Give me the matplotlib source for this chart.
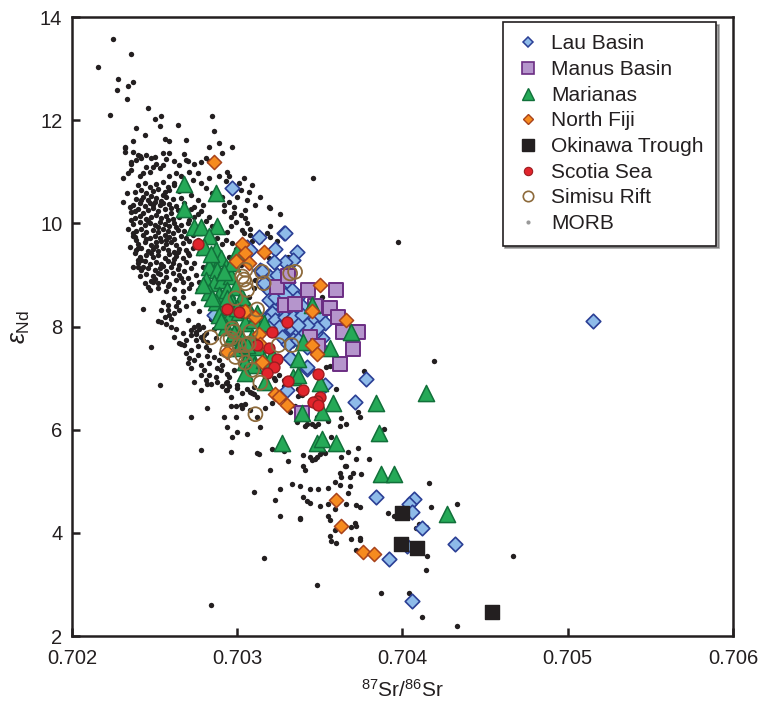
import matplotlib
matplotlib.use('Agg')
import matplotlib.pyplot as plt
from matplotlib.lines import Line2D

plt.rcParams['font.family'] = ['Liberation Sans', 'DejaVu Sans']
plt.rcParams['mathtext.fontset'] = 'custom'
plt.rcParams['mathtext.rm'] = 'Liberation Sans'
plt.rcParams['mathtext.it'] = 'Liberation Sans:italic'

# ---------------- data (87Sr/86Sr, eps_Nd) ----------------
series_names = ['Lau Basin', 'Manus Basin', 'Marianas', 'North Fiji',
                'Okinawa Trough', 'Scotia Sea', 'Simisu Rift', 'MORB']

x_ticks = [0.702, 0.703, 0.704, 0.705, 0.706]
y_ticks = [2, 4, 6, 8, 10, 12, 14]

morb_upper = [
    (0.70225, 13.58), (0.70236, 13.29), (0.70216, 13.04), (0.70228, 12.79), (0.70237, 12.75),
    (0.70227, 12.58), (0.70234, 12.66), (0.70233, 12.41), (0.70223, 12.11), (0.70246, 12.24),
    (0.70250, 12.02), (0.70254, 12.08), (0.70253, 11.88), (0.70264, 11.91), (0.70239, 11.84),
    (0.70244, 11.71), (0.70237, 11.60), (0.70232, 11.46), (0.70232, 11.38), (0.70256, 11.64),
    (0.70259, 11.59), (0.70269, 11.62), (0.70285, 12.09), (0.70286, 11.80), (0.70283, 11.49),
    (0.70289, 11.56), (0.70297, 11.49), (0.70291, 11.36), (0.70268, 11.34), (0.70255, 11.37),
    (0.70259, 11.36), (0.70257, 11.25), (0.70236, 11.19), (0.70236, 11.04), (0.70241, 11.30),
    (0.70239, 11.23), (0.70231, 10.88), (0.70270, 11.20), (0.70278, 11.19), (0.70283, 11.20),
    (0.70293, 10.82), (0.70309, 10.74), (0.70302, 10.65), (0.70320, 10.30), (0.70326, 10.19),
    (0.70305, 10.26), (0.70306, 10.46), (0.70346, 10.87), (0.70397, 9.63),
    (0.70232, 11.49), (0.70237, 11.39), (0.70240, 11.33), (0.70242, 11.26), (0.70245, 11.33),
    (0.70248, 11.26), (0.70250, 11.29), (0.70251, 11.16), (0.70249, 11.10), (0.70253, 11.07),
    (0.70255, 11.13), (0.70245, 11.10), (0.70247, 11.00), (0.70243, 10.97), (0.70241, 10.91),
    (0.70236, 11.16), (0.70234, 10.97), (0.70262, 11.20), (0.70265, 11.13), (0.70269, 11.23),
    (0.70274, 11.16), (0.70281, 11.26), (0.70276, 10.97), (0.70271, 11.00), (0.70263, 10.97),
    (0.70259, 10.91), (0.70262, 10.78), (0.70266, 10.91), (0.70273, 10.84), (0.70278, 10.78),
    (0.70283, 10.87), (0.70289, 10.91), (0.70294, 11.00), (0.70281, 10.68), (0.70285, 10.58),
    (0.70291, 10.52), (0.70295, 10.42), (0.70298, 10.32), (0.70292, 10.23), (0.70296, 10.13),
    (0.70299, 10.03), (0.70272, 10.55), (0.70276, 10.45), (0.70279, 10.36), (0.70274, 10.32),
    (0.70278, 10.23), (0.70283, 10.13), (0.70274, 10.13), (0.70271, 10.07), (0.70296, 9.94),
    (0.70294, 9.84), (0.70293, 9.68), (0.70297, 9.61),
]

morb_core = [
    (0.70240, 10.74), (0.70244, 10.78), (0.70247, 10.71), (0.70251, 10.76), (0.70255, 10.80),
    (0.70258, 10.70), (0.70262, 10.74),
    (0.70238, 10.60), (0.70242, 10.65), (0.70245, 10.58), (0.70249, 10.63), (0.70252, 10.67),
    (0.70256, 10.60), (0.70259, 10.64), (0.70265, 10.62), (0.70269, 10.66),
    (0.70239, 10.48), (0.70243, 10.52), (0.70246, 10.46), (0.70248, 10.54), (0.70251, 10.49),
    (0.70254, 10.44), (0.70257, 10.52), (0.70261, 10.47), (0.70266, 10.50),
    (0.70237, 10.36), (0.70241, 10.40), (0.70244, 10.34), (0.70247, 10.39), (0.70250, 10.42),
    (0.70253, 10.35), (0.70255, 10.40), (0.70259, 10.37), (0.70263, 10.33), (0.70268, 10.39),
    (0.70236, 10.22), (0.70240, 10.27), (0.70243, 10.21), (0.70246, 10.26), (0.70249, 10.29),
    (0.70252, 10.23), (0.70256, 10.27), (0.70260, 10.21), (0.70264, 10.26), (0.70268, 10.22),
    (0.70238, 10.10), (0.70241, 10.15), (0.70245, 10.09), (0.70248, 10.13), (0.70251, 10.16),
    (0.70254, 10.10), (0.70257, 10.14), (0.70261, 10.08), (0.70265, 10.12),
    (0.70237, 9.98), (0.70241, 10.02), (0.70244, 9.96), (0.70247, 10.01), (0.70250, 9.97),
    (0.70253, 10.03), (0.70256, 9.99), (0.70259, 9.95), (0.70262, 10.01), (0.70266, 9.97),
    (0.70270, 10.00),
    (0.70239, 9.85), (0.70242, 9.89), (0.70245, 9.83), (0.70249, 9.88), (0.70252, 9.84),
    (0.70255, 9.90), (0.70258, 9.86), (0.70261, 9.82), (0.70264, 9.88), (0.70268, 9.85),
    (0.70272, 9.89),
    (0.70238, 9.73), (0.70243, 9.77), (0.70247, 9.72), (0.70250, 9.76), (0.70253, 9.71),
    (0.70256, 9.78), (0.70259, 9.74), (0.70262, 9.70), (0.70266, 9.76), (0.70269, 9.72),
    (0.70273, 9.77),
    (0.70240, 9.60), (0.70244, 9.64), (0.70248, 9.59), (0.70251, 9.63), (0.70254, 9.66),
    (0.70257, 9.60), (0.70260, 9.64), (0.70263, 9.58), (0.70267, 9.62), (0.70271, 9.65),
    (0.70239, 9.48), (0.70242, 9.52), (0.70246, 9.47), (0.70249, 9.51), (0.70252, 9.46),
    (0.70255, 9.53), (0.70258, 9.49), (0.70262, 9.45), (0.70265, 9.51), (0.70269, 9.48),
    (0.70273, 9.52),
    (0.70241, 9.35), (0.70245, 9.39), (0.70249, 9.34), (0.70252, 9.38), (0.70256, 9.33),
    (0.70259, 9.40), (0.70263, 9.36), (0.70267, 9.32), (0.70271, 9.38),
    (0.70240, 9.23), (0.70244, 9.27), (0.70247, 9.22), (0.70251, 9.26), (0.70254, 9.21),
    (0.70258, 9.28), (0.70261, 9.24), (0.70265, 9.20), (0.70269, 9.26), (0.70274, 9.23),
    (0.70242, 9.10), (0.70246, 9.14), (0.70250, 9.09), (0.70253, 9.13), (0.70257, 9.08),
    (0.70260, 9.15), (0.70264, 9.11), (0.70268, 9.07), (0.70272, 9.13),
    (0.70241, 8.98), (0.70245, 9.02), (0.70249, 8.97), (0.70253, 9.01), (0.70257, 8.96),
    (0.70261, 9.03), (0.70265, 8.99), (0.70270, 8.95), (0.70275, 9.00),
    (0.70244, 8.85), (0.70248, 8.89), (0.70252, 8.84), (0.70255, 8.88), (0.70259, 8.83),
    (0.70263, 8.90), (0.70267, 8.86), (0.70272, 8.82), (0.70277, 8.87),
    (0.70247, 8.70), (0.70252, 8.74), (0.70257, 8.69), (0.70262, 8.73), (0.70267, 8.68),
    (0.70271, 8.75), (0.70276, 8.71), (0.70281, 8.67),
    (0.70231, 10.42), (0.70233, 10.58), (0.70235, 10.32), (0.70238, 10.23), (0.70236, 10.07),
    (0.70234, 9.90), (0.70237, 9.81), (0.70239, 9.68), (0.70235, 9.55), (0.70238, 9.42),
    (0.70240, 9.29), (0.70237, 9.16), (0.70237, 9.75), (0.70240, 9.52), (0.70242, 9.29),
    (0.70243, 9.16), (0.70246, 8.77), (0.70249, 8.87), (0.70252, 9.03), (0.70240, 9.16),
    (0.70276, 10.18), (0.70281, 10.05), (0.70285, 9.95), (0.70278, 9.90), (0.70283, 9.80),
    (0.70288, 9.72), (0.70276, 9.68), (0.70280, 9.55), (0.70286, 9.48), (0.70291, 9.60),
    (0.70277, 9.42), (0.70282, 9.30), (0.70288, 9.25), (0.70279, 9.15), (0.70284, 9.05),
    (0.70290, 9.10), (0.70295, 9.35), (0.70299, 9.50), (0.70281, 8.92), (0.70286, 8.80),
    (0.70292, 8.85), (0.70297, 9.00), (0.70302, 9.20), (0.70306, 9.40),
    (0.70295, 10.91), (0.70301, 10.78), (0.70304, 10.87), (0.70307, 10.61), (0.70300, 10.52),
    (0.70292, 10.36), (0.70298, 10.20), (0.70305, 10.10), (0.70311, 10.36), (0.70303, 9.87),
    (0.70309, 9.65), (0.70314, 9.65), (0.70318, 9.81), (0.70320, 9.94), (0.70314, 10.52),
    (0.70319, 10.31), (0.70302, 10.16), (0.70306, 10.00), (0.70308, 9.90), (0.70304, 9.81),
    (0.70308, 9.78), (0.70320, 9.74), (0.70324, 9.65), (0.70321, 9.48), (0.70331, 9.35),
    (0.70351, 8.58), (0.70314, 9.10), (0.70311, 8.90), (0.70310, 8.74), (0.70307, 8.58),
    (0.70319, 9.32),
    (0.70242, 10.45), (0.70249, 10.35), (0.70255, 10.55), (0.70260, 10.30), (0.70246, 10.05),
    (0.70252, 9.92), (0.70258, 10.06), (0.70263, 9.93), (0.70245, 9.70), (0.70251, 9.56),
    (0.70257, 9.68), (0.70264, 9.44), (0.70248, 9.42), (0.70255, 9.17), (0.70262, 9.30),
    (0.70250, 8.92), (0.70258, 8.78), (0.70266, 8.94), (0.70270, 9.42), (0.70272, 10.28),
]

morb_lower = [
    (0.70243, 8.34), (0.70248, 7.60), (0.70255, 8.48), (0.70254, 8.32), (0.70258, 8.32),
    (0.70259, 8.22), (0.70260, 8.14), (0.70252, 8.11), (0.70254, 8.09), (0.70256, 8.18),
    (0.70262, 8.55), (0.70264, 8.48), (0.70267, 8.58), (0.70265, 8.32), (0.70263, 8.40),
    (0.70269, 8.39), (0.70260, 8.00), (0.70266, 7.67), (0.70269, 7.48), (0.70270, 7.30),
    (0.70272, 7.19), (0.70271, 7.39), (0.70276, 7.45),
    (0.70274, 8.00), (0.70272, 7.93), (0.70275, 7.90), (0.70277, 7.95), (0.70279, 8.00),
    (0.70281, 7.87), (0.70278, 7.80), (0.70275, 7.74), (0.70281, 7.61), (0.70283, 7.55),
    (0.70282, 7.42), (0.70283, 7.29), (0.70280, 7.16), (0.70283, 7.06), (0.70281, 6.97),
    (0.70284, 6.89), (0.70289, 7.35), (0.70290, 7.16), (0.70287, 7.03), (0.70288, 6.93),
    (0.70291, 6.84), (0.70295, 7.03), (0.70298, 7.16), (0.70293, 6.91), (0.70293, 6.77),
    (0.70296, 6.64),
    (0.70276, 8.03), (0.70275, 7.85), (0.70280, 7.83), (0.70272, 7.83), (0.70279, 7.74),
    (0.70282, 7.70), (0.70272, 7.55), (0.70268, 7.64), (0.70265, 7.68), (0.70269, 7.74),
    (0.70267, 7.87), (0.70290, 7.48), (0.70291, 7.26), (0.70294, 7.07), (0.70278, 7.06),
    (0.70278, 7.26),
    (0.70253, 6.87), (0.70274, 6.93), (0.70278, 6.77), (0.70282, 6.89), (0.70294, 6.93),
    (0.70295, 6.85), (0.70294, 6.77), (0.70300, 6.87), (0.70300, 6.80), (0.70303, 6.71),
    (0.70306, 6.78), (0.70309, 6.72), (0.70282, 6.42), (0.70272, 6.25), (0.70296, 6.46),
    (0.70299, 6.46), (0.70302, 6.48), (0.70303, 6.42), (0.70305, 6.50), (0.70292, 6.24),
    (0.70299, 6.24), (0.70294, 6.05), (0.70300, 5.96), (0.70297, 5.85), (0.70306, 5.92),
    (0.70278, 5.60), (0.70296, 5.56), (0.70284, 2.61), (0.70316, 3.52), (0.70467, 3.55),
    (0.70258, 8.42), (0.70262, 8.26), (0.70257, 8.05), (0.70263, 7.95), (0.70270, 8.12),
    (0.70273, 8.45), (0.70277, 8.30), (0.70284, 8.15), (0.70286, 7.95), (0.70287, 7.78),
    (0.70262, 7.80), (0.70276, 7.62), (0.70286, 7.40), (0.70274, 7.35), (0.70288, 7.20),
]

morb_tail = [
    (0.70419, 7.34), (0.70377, 7.13), (0.70356, 7.24), (0.70354, 7.22), (0.70360, 6.79),
    (0.70373, 6.35), (0.70374, 6.24), (0.70366, 6.11), (0.70362, 6.08), (0.70389, 6.01),
    (0.70363, 6.22), (0.70355, 6.16), (0.70348, 6.25), (0.70349, 6.11), (0.70347, 6.07),
    (0.70345, 6.11), (0.70336, 6.14), (0.70341, 6.07), (0.70342, 6.11), (0.70332, 6.35),
    (0.70335, 6.46), (0.70337, 6.66), (0.70317, 6.42), (0.70321, 6.51), (0.70314, 6.06),
    (0.70312, 6.25), (0.70308, 6.38), (0.70310, 6.69), (0.70312, 6.63), (0.70310, 6.82),
    (0.70308, 6.74), (0.70325, 7.06), (0.70322, 7.00), (0.70323, 6.97), (0.70328, 6.97),
    (0.70328, 6.85), (0.70337, 6.79), (0.70341, 6.74), (0.70339, 6.67), (0.70328, 6.61),
    (0.70325, 6.58), (0.70312, 5.55), (0.70313, 5.53), (0.70321, 5.62), (0.70328, 5.58),
    (0.70320, 5.22), (0.70331, 5.40), (0.70340, 5.51), (0.70344, 5.47), (0.70348, 5.48),
    (0.70350, 5.53), (0.70352, 5.58), (0.70353, 5.55), (0.70357, 5.86), (0.70363, 5.48),
    (0.70365, 5.29), (0.70366, 5.30), (0.70367, 5.56), (0.70372, 5.43), (0.70373, 5.64),
    (0.70380, 5.43), (0.70340, 5.29), (0.70341, 5.21), (0.70345, 5.41), (0.70347, 5.43),
    (0.70362, 5.16), (0.70363, 5.09), (0.70368, 5.08), (0.70370, 5.17), (0.70375, 5.14),
    (0.70359, 4.98), (0.70362, 4.93), (0.70333, 4.95), (0.70338, 4.90), (0.70344, 4.85),
    (0.70349, 4.85), (0.70355, 4.87), (0.70367, 4.78), (0.70368, 4.90), (0.70416, 4.96),
    (0.70417, 4.50), (0.70433, 4.56), (0.70391, 4.38), (0.70395, 4.33), (0.70326, 4.85),
    (0.70323, 4.64), (0.70340, 4.70), (0.70342, 4.61), (0.70344, 4.58), (0.70350, 4.52),
    (0.70355, 4.56), (0.70358, 4.64), (0.70366, 4.56), (0.70372, 4.54), (0.70374, 4.51),
    (0.70359, 4.46), (0.70310, 4.80), (0.70326, 4.33), (0.70338, 4.28), (0.70355, 4.32),
    (0.70338, 4.27), (0.70356, 4.24), (0.70359, 4.06), (0.70356, 3.94), (0.70357, 3.84),
    (0.70360, 3.81), (0.70369, 3.88), (0.70374, 3.90), (0.70374, 3.86), (0.70372, 3.66),
    (0.70369, 4.11), (0.70371, 4.20), (0.70372, 4.14), (0.70408, 4.09), (0.70410, 4.17),
    (0.70414, 4.12), (0.70415, 3.56), (0.70414, 3.28), (0.70348, 2.98), (0.70387, 2.83),
    (0.70404, 2.83), (0.70412, 2.37), (0.70433, 2.20),
]

lau = [
    (0.70297, 10.68), (0.70328, 9.81), (0.70313, 9.74), (0.70515, 8.11),
    (0.70378, 6.98), (0.70371, 6.53), (0.70384, 4.70), (0.70407, 4.66), (0.70404, 4.56),
    (0.70406, 4.40), (0.70412, 4.10), (0.70432, 3.78), (0.70392, 3.50), (0.70403, 3.75),
    (0.70406, 2.67), (0.70332, 7.39), (0.70330, 6.77), (0.70342, 7.17), (0.70353, 6.87),
    (0.70322, 8.32), (0.70318, 8.19), (0.70324, 8.10), (0.70330, 8.23), (0.70334, 8.06),
    (0.70338, 8.16), (0.70342, 8.00), (0.70348, 8.13), (0.70351, 7.77), (0.70347, 7.87),
    (0.70337, 7.87), (0.70332, 8.00), (0.70326, 7.97), (0.70320, 8.03), (0.70328, 7.80),
    (0.70334, 7.74), (0.70340, 7.84), (0.70345, 7.67), (0.70350, 7.61),
    (0.70329, 9.82), (0.70323, 9.50), (0.70336, 9.45), (0.70334, 9.29), (0.70329, 9.26),
    (0.70322, 9.26), (0.70314, 9.10), (0.70319, 8.97), (0.70324, 9.00), (0.70330, 9.06),
    (0.70331, 8.87), (0.70333, 8.71), (0.70318, 8.74), (0.70319, 8.52), (0.70323, 8.58),
    (0.70329, 8.61), (0.70336, 8.55), (0.70339, 8.39), (0.70334, 8.35), (0.70327, 8.32),
    (0.70321, 8.26), (0.70318, 8.13), (0.70323, 8.13), (0.70329, 8.19), (0.70334, 8.19),
    (0.70339, 8.23), (0.70346, 8.10), (0.70350, 8.23), (0.70353, 8.07), (0.70348, 7.97),
    (0.70342, 8.03), (0.70337, 8.03), (0.70325, 8.00), (0.70319, 7.97),
    (0.70306, 9.55), (0.70308, 9.48), (0.70315, 9.07), (0.70316, 8.84), (0.70286, 8.23),
    (0.70327, 7.80), (0.70331, 7.67), (0.70337, 7.74), (0.70342, 7.61), (0.70348, 7.55),
    (0.70332, 7.39), (0.70342, 7.22),
]

manus = [
    (0.70324, 8.76), (0.70343, 8.70), (0.70360, 8.70), (0.70331, 8.97), (0.70329, 8.42),
    (0.70335, 8.44), (0.70347, 8.39), (0.70356, 8.35), (0.70361, 8.19), (0.70364, 7.89),
    (0.70373, 7.90), (0.70344, 7.80), (0.70349, 7.63), (0.70370, 7.56), (0.70362, 7.27),
    (0.70339, 6.32),
]

marianas = [
    (0.70268, 10.76), (0.70287, 10.59), (0.70268, 10.27), (0.70274, 9.93), (0.70278, 9.92),
    (0.70288, 9.94), (0.70283, 9.75), (0.70287, 9.48), (0.70285, 9.29), (0.70290, 9.32),
    (0.70283, 9.16), (0.70288, 9.10), (0.70293, 9.16), (0.70281, 8.90), (0.70286, 8.84),
    (0.70291, 8.90), (0.70296, 8.97), (0.70283, 8.67), (0.70289, 8.61), (0.70294, 8.71),
    (0.70299, 8.77), (0.70287, 8.48), (0.70292, 8.38), (0.70297, 8.48), (0.70302, 8.51),
    (0.70289, 8.22), (0.70295, 8.19), (0.70301, 8.29), (0.70307, 8.32), (0.70293, 8.00),
    (0.70299, 7.96), (0.70305, 8.06), (0.70310, 8.13), (0.70297, 7.80), (0.70303, 7.74),
    (0.70309, 7.80), (0.70301, 7.58), (0.70307, 7.51), (0.70312, 7.61), (0.70305, 7.32),
    (0.70310, 7.25), (0.70316, 7.35), (0.70305, 7.09), (0.70317, 6.93), (0.70321, 7.45),
    (0.70327, 5.74), (0.70345, 8.42), (0.70369, 7.89), (0.70356, 7.58), (0.70334, 7.03),
    (0.70337, 7.06), (0.70350, 6.90), (0.70358, 6.51), (0.70351, 6.35), (0.70339, 6.32),
    (0.70384, 6.51), (0.70414, 6.72), (0.70386, 5.93), (0.70348, 5.74), (0.70351, 5.81),
    (0.70360, 5.74), (0.70387, 5.14), (0.70395, 5.14), (0.70427, 4.36), (0.70297, 9.23),
    (0.70303, 8.58), (0.70312, 8.26), (0.70316, 8.06), (0.70340, 7.70), (0.70337, 7.38),
    (0.70300, 9.45), (0.70280, 9.55), (0.70284, 9.40), (0.70292, 9.05), (0.70279, 8.80),
    (0.70285, 8.55), (0.70294, 8.55), (0.70300, 8.35), (0.70290, 8.10), (0.70298, 7.88),
    (0.70306, 7.65),
]

north_fiji = [
    (0.70286, 11.18), (0.70303, 9.60), (0.70305, 9.43), (0.70316, 9.45), (0.70299, 9.28),
    (0.70307, 9.23), (0.70350, 8.80), (0.70345, 8.31), (0.70311, 8.19), (0.70305, 8.31),
    (0.70366, 8.13), (0.70313, 7.85), (0.70345, 7.64), (0.70348, 7.47), (0.70294, 7.51),
    (0.70315, 7.32), (0.70314, 7.67), (0.70323, 6.69), (0.70325, 6.63), (0.70330, 6.48),
    (0.70360, 4.64), (0.70363, 4.14), (0.70376, 3.62), (0.70383, 3.59),
]

okinawa = [(0.70400, 4.39), (0.70399, 3.78), (0.70409, 3.70), (0.70454, 2.46)]

scotia = [
    (0.70276, 9.60), (0.70294, 8.34), (0.70301, 8.29), (0.70330, 8.08), (0.70321, 7.90),
    (0.70312, 7.64), (0.70319, 7.58), (0.70324, 7.38), (0.70322, 7.22), (0.70318, 7.10),
    (0.70331, 6.95), (0.70349, 7.08), (0.70340, 6.77), (0.70350, 6.64), (0.70348, 6.55),
    (0.70346, 6.53), (0.70349, 6.48),
]

simisu = [
    (0.70315, 9.06), (0.70304, 8.91), (0.70305, 8.84), (0.70306, 8.71), (0.70299, 8.55),
    (0.70312, 8.33), (0.70297, 7.96), (0.70298, 7.90), (0.70294, 7.74), (0.70296, 7.77),
    (0.70284, 7.79), (0.70301, 7.64), (0.70305, 7.64), (0.70299, 7.41), (0.70303, 7.45),
    (0.70305, 7.30), (0.70309, 7.16), (0.70314, 6.91), (0.70311, 6.30), (0.70325, 7.64),
    (0.70333, 7.64), (0.70294, 7.53), (0.70305, 9.10), (0.70303, 8.97), (0.70316, 8.84),
    (0.70332, 9.03), (0.70335, 9.06), (0.70308, 7.90), (0.70307, 7.67),
]

# ---------------- plotting ----------------
fig = plt.figure(figsize=(7.69, 7.01), dpi=100)
ax = fig.add_axes([0.0936, 0.0927, 0.8596, 0.883])


def xy(pairs):
    xs, ys = zip(*pairs)
    return list(xs), list(ys)


morb = morb_upper + morb_core + morb_lower + morb_tail
mx, my = xy(morb)
ax.scatter(mx, my, s=15, c='#231f20', linewidths=0, zorder=1)

styles = [
    (lau, dict(marker='D', s=55, facecolor='#8ebbe9', edgecolor='#2b3f95', linewidths=1.2)),
    (manus, dict(marker='s', s=100, facecolor='#b595cc', edgecolor='#6b2d83', linewidths=1.4)),
    (marianas, dict(marker='^', s=135, facecolor='#25a957', edgecolor='#11703a', linewidths=1.1)),
    (north_fiji, dict(marker='D', s=52, facecolor='#f68b1f', edgecolor='#a8431c', linewidths=1.1)),
    (okinawa, dict(marker='s', s=100, facecolor='#231f20', edgecolor='#231f20', linewidths=1.0)),
    (scotia, dict(marker='o', s=62, facecolor='#e1242c', edgecolor='#9c1c20', linewidths=1.0)),
    (simisu, dict(marker='o', s=100, facecolor='none', edgecolor='#8d6a3b', linewidths=1.3)),
]
for z, (pairs, st) in enumerate(styles):
    x, y = xy(pairs)
    ax.scatter(x, y, zorder=2 + z, **st)

ax.set_xlim(0.702, 0.706)
ax.set_ylim(2, 14)
ax.set_xticks(x_ticks)
ax.set_xticklabels([f'{v:.3f}' for v in x_ticks])
ax.set_yticks(y_ticks)
ax.tick_params(direction='in', length=6, width=1.8, labelsize=14.5, colors='#231f20')
ax.tick_params(axis='x', pad=9)
ax.tick_params(axis='y', pad=7)
for sp in ax.spines.values():
    sp.set_linewidth(1.8)
    sp.set_color('#231f20')

ax.set_xlabel(r'$^{87}$Sr/$^{86}$Sr', fontsize=15, labelpad=8, color='#231f20')
ax.set_ylabel(r'$\varepsilon_{\mathrm{Nd}}$', fontsize=18, labelpad=6, color='#231f20')

handles = [
    Line2D([], [], ls='none', marker='D', ms=5.5, mfc='#8ebbe9', mec='#2b3f95', mew=1.1),
    Line2D([], [], ls='none', marker='s', ms=8, mfc='#b595cc', mec='#6b2d83', mew=1.2),
    Line2D([], [], ls='none', marker='^', ms=9, mfc='#25a957', mec='#11703a', mew=1.0),
    Line2D([], [], ls='none', marker='D', ms=5.5, mfc='#f68b1f', mec='#a8431c', mew=1.0),
    Line2D([], [], ls='none', marker='s', ms=8, mfc='#231f20', mec='#231f20'),
    Line2D([], [], ls='none', marker='o', ms=6, mfc='#e1242c', mec='#9c1c20', mew=0.8),
    Line2D([], [], ls='none', marker='o', ms=7.5, mfc='none', mec='#8d6a3b', mew=1.2),
    Line2D([], [], ls='none', marker='o', ms=3, mfc='#999999', mec='none'),
]
leg = ax.legend(handles, series_names, loc='upper right', bbox_to_anchor=(0.975, 0.992),
                borderaxespad=0.0, fontsize=15, frameon=True, fancybox=False, shadow=True,
                edgecolor='#231f20', labelspacing=0.32, handlelength=1.2,
                handletextpad=0.55, borderpad=0.6)
leg.get_frame().set_linewidth(1.2)
for t in leg.get_texts():
    t.set_color('#231f20')

fig.savefig('out.png', dpi=100)
